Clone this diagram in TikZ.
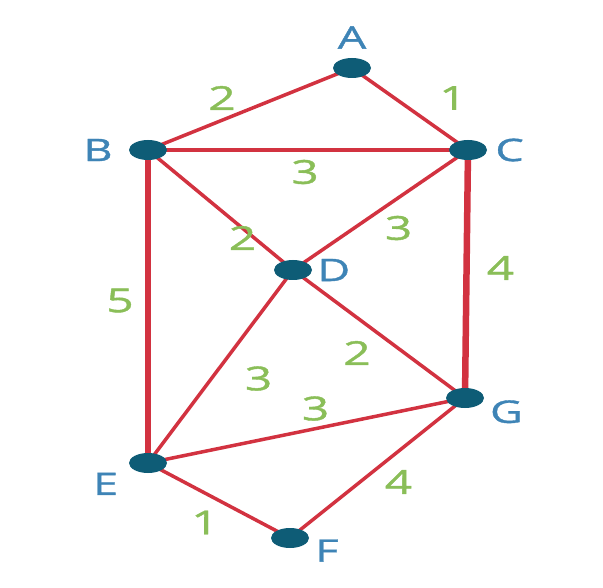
\documentclass[tikz,border=0pt]{standalone}
\usepackage{fontspec}
\setmainfont{Open Sans}
\newfontfamily\widefont[FakeStretch=1.45,FakeBold=1.2]{Open Sans}
\usetikzlibrary{shapes.geometric,backgrounds}
\definecolor{edgered}{RGB}{210,50,64}
\definecolor{vertfill}{RGB}{14,92,118}
\definecolor{lblblue}{RGB}{62,132,182}
\definecolor{wtgreen}{RGB}{138,190,88}
\tikzset{
  vert/.style={ellipse, fill=vertfill, minimum width=38pt, minimum height=20pt, inner sep=0pt},
  vlbl/.style={text=lblblue, font=\widefont\fontsize{31}{31}\selectfont, inner sep=0pt},
  wt/.style={text=wtgreen, font=\widefont\fontsize{33}{33}\selectfont, inner sep=0pt},
  road/.style={draw=edgered, line width=3.5pt},
  mainroad/.style={draw=edgered, line width=6.5pt}
}
\begin{document}
\begin{tikzpicture}[x=1pt,y=-1pt]
        \useasboundingbox (0,0) rectangle (603,588);
        \node (A) [vert, label={[vlbl,label distance=9pt]above:A}] at (352,68) {};
        \node (B) [vert, label={[vlbl,label distance=16pt]left:B}] at (148,150) {};
        \node (C) [vert, label={[vlbl,label distance=8pt]right:C}] at (468,150) {};
        \node (D) [vert, label={[vlbl,label distance=5pt]right:D}] at (293,270) {};
        \node (G) [vert, label={[vlbl,label distance=6pt]-5:G}] at (465,398) {};
        \node (E) [vert, label={[vlbl,label distance=14pt]198:E}] at (148,463) {};
        \node (F) [vert, label={[vlbl,label distance=6pt]-3:F}] at (290,538) {};

        % edges go under the dots
        \begin{pgfonlayer}{background}
        \draw[road] (A.center) -- node[wt, shift={(-28,-11)}]{2} (B.center);
        \draw[road] (A.center) -- node[wt, shift={(43,-11)}]{1} (C.center);
        \draw[road] (B.center) -- node[wt, shift={(-3,22)}]{3} (C.center);
        \draw[road] (B.center) -- node[wt, shift={(22,28)}]{2} (D.center);
        \draw[road] (C.center) -- node[wt, shift={(18,18)}]{3} (D.center);
        \draw[mainroad] (B.center) -- node[wt, shift={(-28,-6)}]{5} (E.center);
        \draw[mainroad] (C.center) -- node[wt, shift={(34,-6)}]{4} (G.center);
        \draw[road] (D.center) -- node[wt, shift={(38,12)}]{3} (E.center);
        \draw[road] (D.center) -- node[wt, shift={(-22,19)}]{2} (G.center);
        \draw[road] (E.center) -- node[wt, shift={(9,-22)}]{3} (G.center);
        \draw[road] (G.center) -- node[wt, shift={(21,14)}]{4} (F.center);
        \draw[road] (E.center) -- node[wt, shift={(-14,22)}]{1} (F.center);
        \end{pgfonlayer}
    \end{tikzpicture}
\end{document}
